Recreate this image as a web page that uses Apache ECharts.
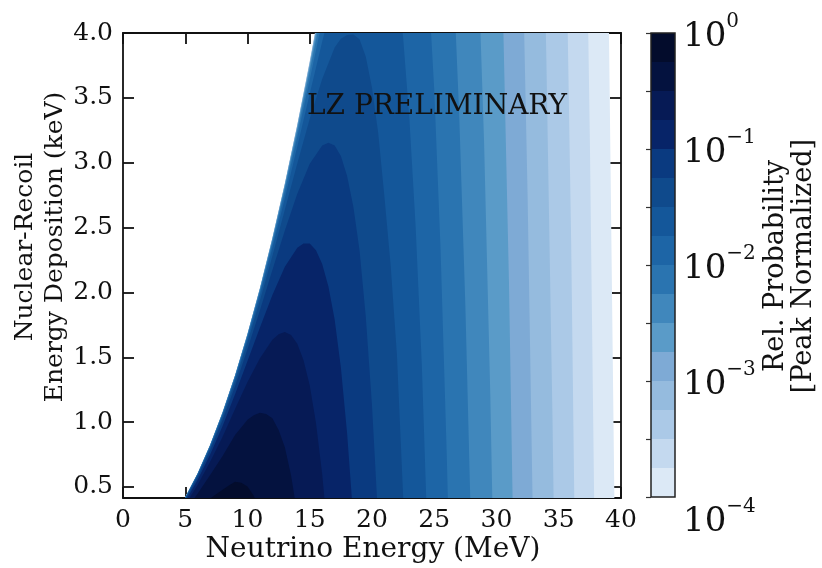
<!DOCTYPE html>
<html>
<head>
<meta charset="UTF-8">
<title>LZ preliminary</title>
<script src="https://cdn.jsdelivr.net/npm/echarts@6/dist/echarts.min.js"></script>
<style>
  html, body { margin: 0; padding: 0; background: #fff; }
  #main { width: 822px; height: 568px; }
</style>
</head>
<body>
<div id="main"></div>
<script>
// contour levels, log10 of the relative probability (peak normalized)
var levelExp = [-0.25, -0.5, -0.75, -1, -1.25, -1.5, -1.75, -2, -2.25, -2.5, -2.75, -3, -3.25, -3.5, -3.75, -4];

// contour lines [neutrino energy (MeV), recoil energy (keV)], one per level
var contour1 = [[7,0.411],[7.5,0.446],[8,0.478],[8.5,0.511],[9,0.540],[9.5,0.532],[10,0.504],[10.5,0.432],[11,0.323]];
var contour2 = [[5,0.315],[6,0.450],[7,0.592],[8,0.739],[9,0.900],[10,1.019],[10.5,1.053],[11,1.072],[11.5,1.063],[12,1.029],[12.5,0.940],[13,0.807],[13.5,0.588],[14,0.290]];
var contour3 = [[5,0.361],[6,0.518],[7,0.694],[8,0.887],[9,1.102],[10,1.309],[11,1.493],[12,1.636],[12.5,1.678],[13,1.695],[13.5,1.671],[14,1.604],[14.5,1.477],[15,1.282],[15.5,0.993],[16,0.598],[16.5,0.078]];
var contour4 = [[5,0.387],[6,0.556],[7,0.751],[8,0.970],[9,1.215],[10,1.472],[11,1.730],[12,1.980],[13,2.197],[14,2.345],[14.5,2.378],[15,2.377],[15.5,2.326],[16,2.220],[16.5,2.045],[17,1.792],[17.5,1.421],[18,0.915],[18.5,0.259]];
var contour5 = [[5,0.401],[6,0.577],[7,0.783],[8,1.016],[9,1.279],[10,1.563],[11,1.863],[12,2.172],[13,2.478],[14,2.760],[15,2.992],[16,3.133],[16.5,3.153],[17,3.133],[17.5,3.052],[18,2.897],[18.5,2.663],[19,2.324],[19.5,1.815],[20,1.129],[20.5,0.240]];
var contour6 = [[5,0.410],[6,0.589],[7,0.801],[8,1.042],[9,1.315],[10,1.615],[11,1.938],[12,2.281],[13,2.637],[14,2.994],[15,3.338],[16,3.645],[17,3.888],[17.5,3.955],[18,3.985],[18.5,3.988],[19,3.952],[19.5,3.817],[20,3.577],[20.5,3.228],[21,2.735],[21.5,2.206],[22,1.521],[22.5,0.430],[23,-0.97]];
var contour7 = [[5,0.414],[6,0.596],[7,0.811],[8,1.057],[9,1.335],[10,1.644],[11,1.980],[12,2.342],[13,2.726],[14,3.125],[15,3.532],[16,3.933],[17,4.312],[21,4.781],[22,4.417],[22.5,3.965],[23,3.343],[23.5,2.516],[24,1.442],[24.5,0]];
var contour8 = [[5,0.417],[6,0.600],[7,0.817],[8,1.065],[9,1.346],[10,1.660],[11,2.004],[12,2.376],[13,2.776],[14,3.199],[15,3.641],[16,4.095],[23,5.770],[24,5.044],[24.5,4.419],[25,3.561],[25.5,2.350],[26,0.761],[26.5,-1.13]];
var contour9 = [[5,0.418],[6,0.602],[7,0.820],[8,1.070],[9,1.353],[10,1.669],[11,2.017],[12,2.395],[13,2.804],[14,3.241],[15,3.703],[16,4.186],[25,6.602],[26,5.397],[26.5,4.521],[27,3.382],[27.5,1.894],[28,0],[28.5,-2.39]];
var contour10 = [[5,0.419],[6,0.603],[7,0.822],[8,1.073],[9,1.356],[10,1.674],[11,2.024],[12,2.406],[13,2.820],[14,3.264],[15,3.738],[16,4.237],[27,7.265],[28,5.771],[28.5,4.628],[29,3.166],[29.5,1.214],[30,-1.27]];
var contour11 = [[5,0.419],[6,0.604],[7,0.823],[8,1.074],[9,1.358],[10,1.677],[11,2.029],[12,2.412],[13,2.829],[14,3.277],[15,3.757],[16,4.266],[29,7.965],[30,5.899],[30.5,4.237],[31,2.083],[31.5,-0.78]];
var contour12 = [[5,0.420],[6,0.6045],[7,0.823],[8,1.075],[9,1.359],[10,1.679],[11,2.031],[12,2.416],[13,2.834],[14,3.284],[15,3.766],[16,4.287],[31,8.237],[31.5,6.854],[32,5.025],[32.5,2.734],[33,-0.21]];
var contour13 = [[5,0.420],[6,0.605],[7,0.8235],[8,1.0755],[9,1.360],[10,1.680],[11,2.032],[12,2.418],[13,2.836],[14,3.288],[15,3.773],[16,4.291],[33,7.889],[33.5,6.111],[34,3.827],[34.5,1.010],[35,-2.51]];
var contour14 = [[5,0.420],[6,0.6045],[7,0.824],[8,1.076],[9,1.360],[10,1.680],[11,2.033],[12,2.419],[13,2.838],[14,3.291],[15,3.778],[16,4.297],[35,7.597],[35.5,5.295],[36,2.374],[36.5,-1.60]];
var contour15 = [[5,0.420],[6,0.605],[7,0.824],[8,1.076],[9,1.361],[10,1.681],[11,2.034],[12,2.420],[13,2.839],[14,3.293],[15,3.780],[16,4.300],[36.5,8.889],[37,6.350],[37.5,3.167],[38,-0.85]];
var contour16 = [[5,0.420],[6,0.605],[7,0.824],[8,1.076],[9,1.361],[10,1.681],[11,2.034],[12,2.420],[13,2.840],[14,3.294],[15,3.782],[16,4.303],[38,10.14],[38.5,7.573],[39,4.29],[39.5,0.152],[40,-5.08]];

var yTicks = [0.5, 1.0, 1.5, 2.0, 2.5, 3.0, 3.5, 4.0];

var contours = [contour1, contour2, contour3, contour4, contour5, contour6, contour7, contour8,
                contour9, contour10, contour11, contour12, contour13, contour14, contour15, contour16];

// band colours, darkest (top band) first
var bandColors = ['#030c2c', '#04123f', '#061a55', '#072468', '#0a3a80', '#0f4a8c', '#14579a', '#1d65a6',
                  '#2a74b0', '#4087bc', '#5a9bc8', '#7eaad5', '#95bbde', '#abc9e7', '#c4d9ef', '#dce9f6'];

var FONT = 'DejaVu Serif';
var INK = '#111';

// lightest level first so darker regions are painted on top
var fillOrder = [];
for (var i = contours.length - 1; i >= 0; i--) fillOrder.push([20, 2, i]);

var bandData = levelExp.map(function (e, i) {
  return [0.5, e, i, i === 0 ? 0 : levelExp[i - 1]];
});

var chart = echarts.init(document.getElementById('main'));

var tickStyle = { color: INK, width: 1.8 };
var lineStyle = { color: INK, width: 1.8 };

var option = {
  animation: false,
  backgroundColor: '#fff',
  grid: [
    { left: 123, top: 33, width: 498, height: 465 },
    { left: 651, top: 33, width: 24, height: 464 }
  ],
  xAxis: [
    {
      gridIndex: 0, type: 'value', min: 0, max: 40, interval: 5, position: 'bottom',
      axisLine: { show: true, onZero: false, lineStyle: lineStyle },
      axisTick: { show: true, inside: true, length: 11, lineStyle: tickStyle },
      axisLabel: { fontFamily: FONT, fontSize: 25, color: INK, margin: 10 },
      splitLine: { show: false }
    },
    {
      gridIndex: 0, type: 'value', min: 0, max: 40, interval: 5, position: 'top',
      axisLine: { show: true, onZero: false, lineStyle: lineStyle },
      axisTick: { show: true, inside: true, length: 11, lineStyle: tickStyle },
      axisLabel: { show: false },
      splitLine: { show: false }
    },
    { gridIndex: 1, type: 'value', min: 0, max: 1, show: false }
  ],
  yAxis: [
    {
      gridIndex: 0, type: 'value', min: 0.415, max: 4, position: 'left',
      axisLine: { show: true, onZero: false, lineStyle: lineStyle },
      axisTick: { show: true, inside: true, length: 11, lineStyle: tickStyle, customValues: yTicks },
      axisLabel: {
        fontFamily: FONT, fontSize: 25, color: INK, margin: 10, customValues: yTicks,
        formatter: function (v) { return v.toFixed(1); }
      },
      splitLine: { show: false }
    },
    {
      gridIndex: 0, type: 'value', min: 0.415, max: 4, position: 'right',
      axisLine: { show: true, onZero: false, lineStyle: lineStyle },
      axisTick: { show: true, inside: true, length: 11, lineStyle: tickStyle, customValues: yTicks },
      axisLabel: { show: false },
      splitLine: { show: false }
    },
    {
      gridIndex: 1, type: 'value', min: -4, max: 0, interval: 0.5, position: 'right',
      axisLine: { show: false },
      axisTick: { show: true, inside: true, length: 5, lineStyle: { color: '#333', width: 1.2 } },
      axisLabel: {
        margin: 8, color: INK, fontFamily: FONT, verticalAlignMinLabel: 'top',
        formatter: function (v) {
          if (Math.abs(v - Math.round(v)) > 1e-6) return '';
          var n = Math.round(v);
          return '{b|10}{s|' + (n === 0 ? '0' : '\u2212' + (-n)) + '}';
        },
        rich: {
          b: { fontFamily: FONT, fontSize: 34, color: INK, lineHeight: 42, verticalAlign: 'bottom' },
          s: { fontFamily: FONT, fontSize: 20, color: INK, lineHeight: 42, verticalAlign: 'top' }
        }
      },
      splitLine: { show: false }
    }
  ],
  series: [
    {
      type: 'custom',
      xAxisIndex: 0, yAxisIndex: 0,
      clip: true,
      encode: { x: 0, y: 1 },
      data: fillOrder,
      renderItem: function (params, api) {
        var k = api.value(2);
        var path = contours[k];
        var pts = path.map(function (p) { return api.coord(p); });
        pts.push(api.coord([path[path.length - 1][0], 0]));
        pts.push(api.coord([path[0][0], 0]));
        return {
          type: 'polygon',
          shape: { points: pts },
          style: { fill: bandColors[k], stroke: null }
        };
      }
    },
    {
      type: 'custom',
      xAxisIndex: 2, yAxisIndex: 2,
      encode: { x: 0, y: 1 },
      data: bandData,
      renderItem: function (params, api) {
        var lo = api.coord([0, api.value(1)]);
        var hi = api.coord([1, api.value(3)]);
        return {
          type: 'rect',
          shape: { x: lo[0], y: hi[1], width: hi[0] - lo[0], height: lo[1] - hi[1] },
          style: { fill: bandColors[api.value(2)], stroke: null }
        };
      }
    }
  ],
  graphic: [
    {
      type: 'rect', z: 100,
      shape: { x: 651, y: 33, width: 24, height: 464 },
      style: { fill: null, stroke: '#222', lineWidth: 1.5 }
    },
    {
      type: 'text', z: 100, x: 437, y: 107,
      style: { text: 'LZ PRELIMINARY', font: '28px "DejaVu Serif"', fill: INK, textAlign: 'center', textVerticalAlign: 'middle' }
    },
    {
      type: 'text', z: 100, x: 373, y: 550,
      style: { text: 'Neutrino Energy (MeV)', font: '28px "DejaVu Serif"', fill: INK, textAlign: 'center', textVerticalAlign: 'middle' }
    },
    {
      type: 'text', z: 100, x: 40, y: 247, rotation: Math.PI / 2,
      style: { text: 'Nuclear-Recoil\nEnergy Deposition (keV)', font: '25px "DejaVu Serif"', lineHeight: 30, fill: INK, textAlign: 'center', textVerticalAlign: 'middle' }
    },
    {
      type: 'text', z: 100, x: 790, y: 266, rotation: Math.PI / 2,
      style: { text: 'Rel. Probability\n[Peak Normalized]', font: '27px "DejaVu Serif"', lineHeight: 28, fill: INK, textAlign: 'center', textVerticalAlign: 'middle' }
    }
  ]
};

chart.setOption(option);
</script>
</body>
</html>
